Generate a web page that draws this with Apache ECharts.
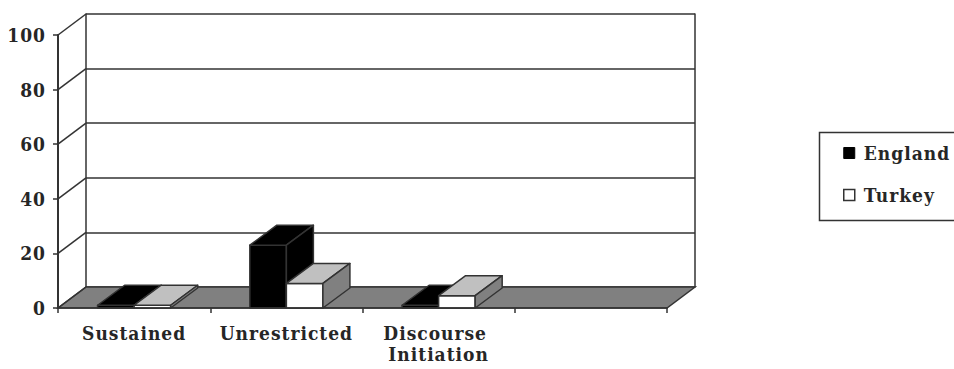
<!DOCTYPE html>
<html>
<head>
<meta charset="utf-8">
<script src="https://cdn.jsdelivr.net/npm/echarts@6/dist/echarts.min.js"></script>
<style>
  html, body { margin: 0; padding: 0; background: #fff; }
  #chart { width: 954px; height: 369px; }
  /* slightly spaced-out serif lettering */
  #chart text { letter-spacing: 1px; }
</style>
</head>
<body>
<div id="chart"></div>
<script>
// Categories along the floor (the last slot is left empty)
const categories = ['Sustained', 'Unrestricted', 'Discourse Initiation', ''];
// Values per group, in percent
const englandValues = [1, 23, 1, null];
const turkeyValues = [1, 9, 4.5, null];
// Value axis ticks
const valueTicks = [0, 20, 40, 60, 80, 100];

const FONT = 'DejaVu Serif Condensed';
const TEXT_COLOR = '#262626';
const EDGE = '#333';

// Front plane of the box and the depth offset to its back wall
const FRONT = { left: 58, top: 35, right: 287, bottom: 61 };
const DX = 28, DY = -21;
const BACK = { left: FRONT.left + DX, top: FRONT.top + DY, right: FRONT.right - DX, bottom: FRONT.bottom - DY };
const BAR_RATIO = 0.24;
const BAR_DX = 27, BAR_DY = -20;

function toData(values) {
  const out = [];
  values.forEach((v, i) => { if (v != null) out.push([i, v]); });
  return out;
}

// A solid box: front face, top face and right side face
function boxRenderer(side, colors) {
  return function (params, api) {
    const idx = api.value(0);
    const top = api.coord([idx, api.value(1)]);
    const base = api.coord([idx, 0]);
    const band = api.size([1, 0])[0];
    const w = band * BAR_RATIO;
    const x0 = side < 0 ? top[0] - w : top[0];
    const x1 = x0 + w;
    const yT = top[1], yB = base[1];
    const stroke = { stroke: EDGE, lineWidth: 1.5, lineJoin: 'round' };
    return {
      type: 'group',
      children: [
        { type: 'polygon', shape: { points: [[x0, yT], [x1, yT], [x1, yB], [x0, yB]] },
          style: Object.assign({ fill: colors.front }, stroke) },
        { type: 'polygon', shape: { points: [[x0, yT], [x1, yT], [x1 + BAR_DX, yT + BAR_DY], [x0 + BAR_DX, yT + BAR_DY]] },
          style: Object.assign({ fill: colors.top }, stroke) },
        { type: 'polygon', shape: { points: [[x1, yT], [x1 + BAR_DX, yT + BAR_DY], [x1 + BAR_DX, yB + BAR_DY], [x1, yB]] },
          style: Object.assign({ fill: colors.side }, stroke) }
      ]
    };
  };
}

const labelText = { fontFamily: FONT, fontWeight: 'bold', fontSize: 19, color: TEXT_COLOR };

const option = {
  backgroundColor: '#fff',
  animation: false,
  grid: [Object.assign({}, FRONT), Object.assign({}, BACK)],
  xAxis: [
    {
      type: 'category', gridIndex: 0, data: categories, boundaryGap: true, z: 6,
      axisLine: { lineStyle: { color: EDGE, width: 1.5 } },
      axisTick: { show: true, interval: 0, length: 5, lineStyle: { color: EDGE, width: 1.5 } },
      axisLabel: Object.assign({ interval: 0, margin: 14, lineHeight: 21, width: 140, overflow: 'break' }, labelText),
      splitLine: { show: false }
    },
    { type: 'category', gridIndex: 1, data: categories, show: false }
  ],
  yAxis: [
    {
      type: 'value', gridIndex: 0, min: 0, max: 100, interval: 20, z: 6,
      axisLine: { show: true, lineStyle: { color: EDGE, width: 2 } },
      axisTick: { show: true, length: 5, lineStyle: { color: EDGE, width: 1.5 } },
      axisLabel: Object.assign({ margin: 12 }, labelText),
      splitLine: { show: false }
    },
    {
      // back wall with its gridlines
      type: 'value', gridIndex: 1, min: 0, max: 100, interval: 20,
      axisLine: { show: true, lineStyle: { color: EDGE, width: 1.5 } },
      axisTick: { show: false }, axisLabel: { show: false },
      splitLine: { show: true, lineStyle: { color: EDGE, width: 1.5 } }
    },
    {
      // right edge of the back wall
      type: 'value', gridIndex: 1, min: 0, max: 100, interval: 20, position: 'right',
      axisLine: { show: true, lineStyle: { color: EDGE, width: 1.5 } },
      axisTick: { show: false }, axisLabel: { show: false }, splitLine: { show: false }
    }
  ],
  legend: {
    orient: 'vertical', left: 843, top: 143, padding: 0,
    itemWidth: 11, itemHeight: 11, itemGap: 22, selectedMode: false,
    textStyle: Object.assign({ lineHeight: 20, padding: [0, 0, 0, 4] }, labelText),
    data: [
      { name: 'England', icon: 'rect', itemStyle: { color: '#000', borderColor: '#000', borderWidth: 1 } },
      { name: 'Turkey', icon: 'rect', itemStyle: { color: '#fff', borderColor: EDGE, borderWidth: 1.5 } }
    ]
  },
  graphic: [
    { type: 'rect', left: 817, top: 130, shape: { width: 142, height: 88 },
      style: { fill: 'none', stroke: EDGE, lineWidth: 1.5 }, z: 0 }
  ],
  series: [
    {
      // floor of the box
      type: 'custom', name: 'floor', xAxisIndex: 0, yAxisIndex: 0, z: 1, clip: false,
      data: [[0, 0]],
      renderItem: function (params, api) {
        const cs = params.coordSys;
        const y0 = api.coord([0, 0])[1];
        const xl = cs.x, xr = cs.x + cs.width;
        return {
          type: 'polygon',
          shape: { points: [[xl, y0], [xr, y0], [xr + DX, y0 + DY], [xl + DX, y0 + DY]] },
          style: { fill: '#808080', stroke: EDGE, lineWidth: 1.5 }
        };
      }
    },
    {
      // side-wall lines joining the front axis to the back wall grid
      type: 'custom', name: 'sidewall', xAxisIndex: 0, yAxisIndex: 0, z: 1, clip: false,
      data: valueTicks.map(v => [0, v]),
      renderItem: function (params, api) {
        const cs = params.coordSys;
        const y = api.coord([0, api.value(1)])[1];
        return {
          type: 'line',
          shape: { x1: cs.x, y1: y, x2: cs.x + DX, y2: y + DY },
          style: { stroke: EDGE, lineWidth: 1.5 }
        };
      }
    },
    {
      type: 'custom', name: 'England', xAxisIndex: 0, yAxisIndex: 0, z: 3, clip: false,
      itemStyle: { color: '#000' }, data: toData(englandValues),
      renderItem: boxRenderer(-1, { front: '#000', top: '#000', side: '#000' })
    },
    {
      type: 'custom', name: 'Turkey', xAxisIndex: 0, yAxisIndex: 0, z: 4, clip: false,
      itemStyle: { color: '#fff' }, data: toData(turkeyValues),
      renderItem: boxRenderer(1, { front: '#fff', top: '#c0c0c0', side: '#808080' })
    }
  ]
};

const chart = echarts.init(document.getElementById('chart'), null, { renderer: 'svg' });
chart.setOption(option);
</script>
</body>
</html>
